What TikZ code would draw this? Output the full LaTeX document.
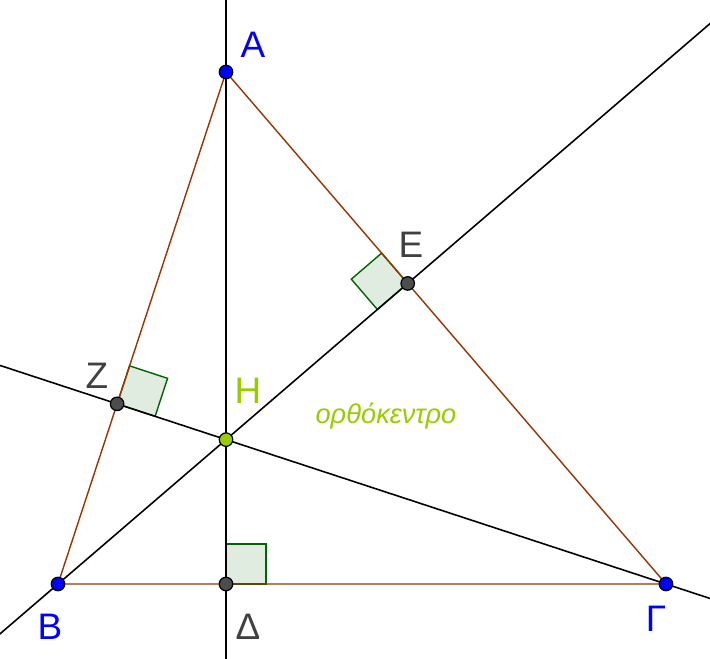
\documentclass[tikz,border=0pt]{standalone}
\usepackage{fontspec}
\setmainfont{Liberation Sans}
\usetikzlibrary{calc}

\definecolor{segbrown}{RGB}{153,51,0}
\definecolor{angreen}{RGB}{0,100,0}
\definecolor{orthogreen}{RGB}{153,204,0}
\definecolor{ptgray}{RGB}{77,77,77}
\definecolor{lblgray}{RGB}{64,64,64}

\tikzset{
 altline/.style={black, line width=0.9pt},
 side/.style={segbrown, line width=0.8pt},
 rightang/.style={angreen, line width=0.8pt, fill=angreen!12},
 vertex/.style={circle, draw=black, line width=0.7pt, fill=blue, inner sep=0pt, minimum size=0.27cm},
 foot/.style={vertex, fill=ptgray},
 lbl/.style={font=\fontsize{21}{21}\selectfont},
}

\begin{document}
\begin{tikzpicture}[x=0.02cm, y=-0.02cm]
 \useasboundingbox (0,0) rectangle (710,659);

 % triangle and feet of the altitudes
 \coordinate (A) at (226,72);
 \coordinate (B) at (58,584);
 \coordinate (G) at (666,584);
 \coordinate (D) at (226,584);
 \coordinate (E) at ($(A)!(B)!(G)$);
 \coordinate (Z) at ($(A)!(G)!(B)$);
 \coordinate (H) at (intersection of A--D and B--E);

 % right angles
 \coordinate (Ea) at ($(E)!0.8cm!(A)$);
 \coordinate (Eb) at ($(E)!0.8cm!(B)$);
 \draw[rightang] (E) -- (Ea) -- ($(Ea)+(Eb)-(E)$) -- (Eb) -- cycle;
 \coordinate (Za) at ($(Z)!0.8cm!(A)$);
 \coordinate (Zg) at ($(Z)!0.8cm!(G)$);
 \draw[rightang] (Z) -- (Za) -- ($(Za)+(Zg)-(Z)$) -- (Zg) -- cycle;
 \draw[rightang] (D) rectangle (266,544);

 % altitudes
 \begin{scope}
  \clip (0,0) rectangle (710,659);
  \draw[altline] ($(A)!-1!(D)$) -- ($(D)!-1!(A)$);
  \draw[altline] ($(B)!-1!(E)$) -- ($(E)!-2!(B)$);
  \draw[altline] ($(G)!-1!(Z)$) -- ($(Z)!-2!(G)$);
 \end{scope}

 % sides
 \draw[side] (A) -- (B) -- (G) -- cycle;

 % points
 \node[vertex] (pA) at (A) {};
 \node[vertex] (pB) at (B) {};
 \node[vertex] (pG) at (G) {};
 \node[foot] (pD) at (D) {};
 \node[foot] (pE) at (E) {};
 \node[foot] (pZ) at (Z) {};
 \node[vertex, fill=orthogreen] (pH) at (H) {};

 % labels
 \node[lbl, blue] (lA) at (253,45) {Α};
 \node[lbl, blue] (lB) at (50,627) {Β};
 \node[lbl, blue] (lG) at (656,619) {Γ};
 \node[lbl, lblgray] (lD) at (248,627) {Δ};
 \node[lbl, lblgray] (lE) at (411,245) {Ε};
 \node[lbl, lblgray] (lZ) at (97,376) {Ζ};
 \node[lbl, orthogreen] (lH) at (248,391) {Η};
 \node[orthogreen, font=\fontsize{15.5}{15.5}\selectfont\itshape] (lort) at (386,416) {ορθόκεντρο};
\end{tikzpicture}
\end{document}
